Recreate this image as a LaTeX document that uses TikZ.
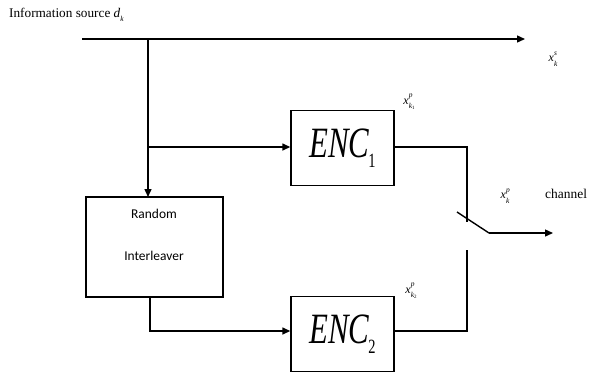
\documentclass[tikz,border=0pt]{standalone}
\usepackage{fontspec}
\setmainfont{Liberation Serif}
\newfontfamily\calfont{Carlito}
\usetikzlibrary{arrows.meta}
\newcommand\ssfont{\fontsize{7.5}{8}\selectfont\itshape}
\newcommand\xsubsup[2]{\textit{x}\makebox[0pt][l]{\raisebox{0.55em}{\ssfont #2}}\raisebox{-0.35em}{\ssfont #1}}
\newcommand\enclabel[1]{\scalebox{1}[1.4]{\fontsize{31}{32}\selectfont\itshape ENC\kern-1pt\raisebox{-0.22em}{\fontsize{14.5}{15}\selectfont\upshape #1}}}
\begin{document}
\begin{tikzpicture}[x=1bp,y=-1bp,
  wire/.style={line width=1.4pt},
  arr/.style={wire,-{Triangle[length=8bp,width=7bp]}},
  encbox/.style={draw,line width=1.4pt,minimum width=103bp,minimum height=75bp,inner sep=0pt},
  ilbox/.style={draw,line width=1.4pt,minimum width=137bp,minimum height=100bp,inner sep=0pt},
  lbl/.style={inner sep=0pt,font=\fontsize{12}{13}\selectfont},
  iltext/.style={font=\calfont\fontsize{13.5}{15}\selectfont,inner sep=0pt}]
\useasboundingbox (0,0) rectangle (594,375);
% nodes
\node[encbox] (enc1) at (342.5,148) {\enclabel{1}};
\node[encbox] (enc2) at (342.5,334) {\enclabel{2}};
\node[ilbox] (il) at (154.5,247) {};
\node[iltext] (ilt1) at (154,214) {Random};
\node[iltext] (ilt2) at (154,256) {Interleaver};
% coordinates
\coordinate (srcL) at (82,39);
\coordinate (srcR) at (525,39);
\coordinate (split) at (148,39);
\coordinate (br) at (148,147);
\coordinate (c1) at (467,147);
\coordinate (piv) at (467,222);
\coordinate (sw1) at (457,212);
\coordinate (sw2) at (489,233);
\coordinate (outR) at (553,233);
\coordinate (c2) at (467,331);
\coordinate (lowtop) at (467,250);
\coordinate (ilb) at (150,297);
\coordinate (ilc) at (150,331);
% connectors
\draw[arr] (srcL) -- (srcR);
\draw[arr] (split) -- (148,197);
\draw[arr] (br) -- (enc1.west |- br);
\draw[wire] (enc1.east |- c1) -- (c1) -- (piv);
\draw[wire] (sw1) -- (sw2);
\draw[arr] (sw2) -- (outR);
\draw[wire] (enc2.east |- c2) -- (c2) -- (lowtop);
\draw[arr] (ilb) -- (ilc) -- (enc2.west |- ilc);
% labels
\node[anchor=west,inner sep=0pt,font=\fontsize{13.3}{15}\selectfont] (src) at (9,15) {Information source \textit{d}\raisebox{-0.3em}{\ssfont k}};
\node[lbl] (xs) at (553,59) {\xsubsup{k}{s}};
\node[lbl] (xp1) at (409,102) {\xsubsup{k\raisebox{-0.2em}{\fontsize{5}{5}\selectfont\upshape 1}}{p}};
\node[lbl] (xp) at (505,196) {\xsubsup{k}{p}};
\node[anchor=west,inner sep=0pt,font=\fontsize{13.5}{15}\selectfont] (ch) at (545,194) {channel};
\node[lbl] (xp2) at (411,291) {\xsubsup{k\raisebox{-0.2em}{\fontsize{5}{5}\selectfont\upshape 2}}{p}};
\end{tikzpicture}
\end{document}
